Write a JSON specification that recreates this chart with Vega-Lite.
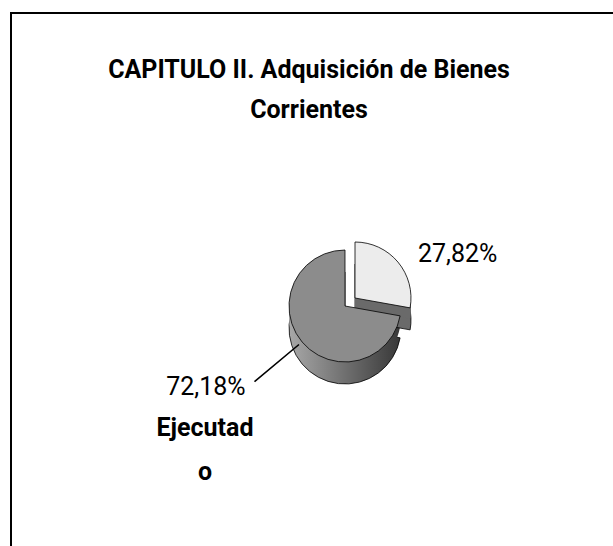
{
  "$schema": "https://vega.github.io/schema/vega-lite/v6.json",
  "autosize": "none",
  "width": 668,
  "height": 586,
  "padding": {"left": 11, "top": 13, "right": 0, "bottom": 0},
  "background": "white",
  "view": {"stroke": "#000", "strokeWidth": 2, "fill": "white"},
  "config": {
    "view": {"stroke": "#000", "strokeWidth": 2},
    "font": "Roboto, Liberation Sans, sans-serif"
  },
  "title": {
    "text": ["CAPITULO II. Adquisición de Bienes", "Corrientes"],
    "font": "Roboto, Liberation Sans, sans-serif",
    "fontSize": 25,
    "fontWeight": "bold",
    "color": "#000",
    "anchor": "middle",
    "dx": -36,
    "offset": -110,
    "lineHeight": 40
  },
  "data": {
    "values": [
      {"categoria": "No ejecutado", "valor": 27.82, "porcentaje": "27,82%", "rotulo": ""},
      {"categoria": "Ejecutado", "valor": 72.18, "porcentaje": "72,18%", "rotulo": "Ejecutad\no"}
    ]
  },
  "transform": [
    {"stack": "valor", "groupby": [], "as": ["v0", "v1"]}
  ],
  "layer": [
    {
      "transform": [{"filter": "datum.categoria == 'Ejecutado'"}],
      "mark": {"type": "arc", "outerRadius": 56, "yOffset": 22, "stroke": "#000", "strokeWidth": 0.8,
        "fill": {"gradient": "linear", "x1": 0, "x2": 1, "y1": 0, "y2": 0, "stops": [{"offset": 0, "color": "#a8a8a8"}, {"offset": 1, "color": "#383838"}]}},
      "encoding": {
        "theta": {"field": "v0", "type": "quantitative", "scale": {"domain": [0, 100]}},
        "theta2": {"field": "v1"}
      }
    },
    {
      "transform": [{"filter": "datum.categoria == 'Ejecutado'"}],
      "mark": {"type": "arc", "outerRadius": 56, "yOffset": 11, "strokeWidth": 0,
        "fill": {"gradient": "linear", "x1": 0, "x2": 1, "y1": 0, "y2": 0, "stops": [{"offset": 0, "color": "#a8a8a8"}, {"offset": 1, "color": "#383838"}]}},
      "encoding": {
        "theta": {"field": "v0", "type": "quantitative"},
        "theta2": {"field": "v1"}
      }
    },
    {
      "transform": [{"filter": "datum.categoria == 'No ejecutado'"}],
      "mark": {"type": "arc", "outerRadius": 56, "xOffset": 10, "yOffset": 14, "fill": "#6a6a6a", "stroke": "#000", "strokeWidth": 0.8},
      "encoding": {
        "theta": {"field": "v0", "type": "quantitative"},
        "theta2": {"field": "v1"}
      }
    },
    {
      "transform": [{"filter": "datum.categoria == 'No ejecutado'"}],
      "mark": {"type": "arc", "outerRadius": 56, "xOffset": 10, "yOffset": 3, "fill": "#6a6a6a", "strokeWidth": 0},
      "encoding": {
        "theta": {"field": "v0", "type": "quantitative"},
        "theta2": {"field": "v1"}
      }
    },
    {
      "transform": [{"filter": "datum.categoria == 'Ejecutado'"}],
      "mark": {"type": "arc", "outerRadius": 56, "fill": "#8c8c8c", "stroke": "#000", "strokeWidth": 0.8},
      "encoding": {
        "theta": {"field": "v0", "type": "quantitative"},
        "theta2": {"field": "v1"}
      }
    },
    {
      "transform": [{"filter": "datum.categoria == 'No ejecutado'"}],
      "mark": {"type": "arc", "outerRadius": 56, "xOffset": 10, "yOffset": -8, "fill": "#ececec", "stroke": "#000", "strokeWidth": 0.8},
      "encoding": {
        "theta": {"field": "v0", "type": "quantitative"},
        "theta2": {"field": "v1"}
      }
    },
    {
      "transform": [
        {"filter": "datum.categoria == 'No ejecutado'"},
        {"fold": ["v0", "v1"], "as": ["borde", "angulo"]},
        {"aggregate": [{"op": "mean", "field": "angulo", "as": "medio"}], "groupby": ["porcentaje"]}
      ],
      "mark": {"type": "text", "fontSize": 25, "align": "center", "baseline": "alphabetic", "color": "#000", "dx": 36, "dy": 20},
      "encoding": {
        "theta": {"field": "medio", "type": "quantitative", "stack": null},
        "radius": {"value": 100},
        "text": {"field": "porcentaje"}
      }
    },
    {
      "transform": [
        {"filter": "datum.categoria == 'Ejecutado'"},
        {"fold": ["v0", "v1"], "as": ["borde", "angulo"]},
        {"aggregate": [{"op": "mean", "field": "angulo", "as": "medio"}], "groupby": ["porcentaje", "rotulo"]}
      ],
      "layer": [
        {
          "mark": {"type": "arc", "innerRadius": 60, "outerRadius": 118, "stroke": "#000", "strokeWidth": 1.6, "fill": null},
          "encoding": {
            "theta": {"field": "medio", "type": "quantitative", "stack": null},
            "theta2": {"field": "medio"}
          }
        },
        {
          "mark": {"type": "text", "fontSize": 25, "align": "center", "baseline": "alphabetic", "color": "#000", "dx": -47, "dy": 12},
          "encoding": {
            "theta": {"field": "medio", "type": "quantitative", "stack": null},
            "radius": {"value": 120},
            "text": {"field": "porcentaje"}
          }
        },
        {
          "mark": {"type": "text", "fontSize": 25, "fontWeight": "bold", "align": "center", "baseline": "alphabetic", "color": "#000", "dx": -48, "dy": 53, "lineBreak": "\n", "lineHeight": 44},
          "encoding": {
            "theta": {"field": "medio", "type": "quantitative", "stack": null},
            "radius": {"value": 120},
            "text": {"field": "rotulo"}
          }
        }
      ]
    }
  ]
}
